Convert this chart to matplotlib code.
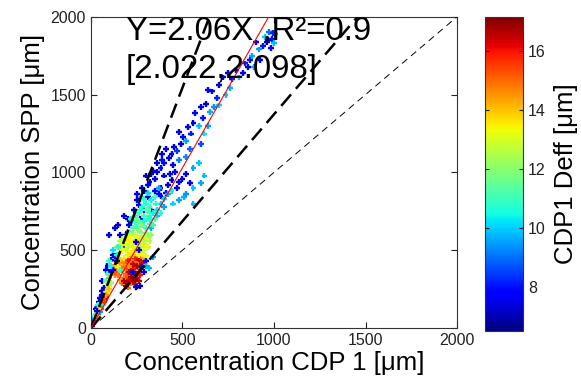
import matplotlib
matplotlib.use("Agg")
import matplotlib.pyplot as plt
import numpy as np

plt.rcParams['font.family'] = ['Liberation Sans', 'DejaVu Sans']

# ---- data ----
pts_upper = [
    (1005,1890,9.5),(990,1860,8),(975,1900,9),(960,1840,7.5),(950,1870,10),(940,1810,8),
    (1000,1830,9.8),(985,1800,7.8),(920,1790,9.5),(900,1835,7.5),(870,1720,8),(860,1680,7.3),
    (880,1750,9.6),(840,1700,8.2),(830,1640,7.6),(810,1610,9.8),(790,1660,7.4),(770,1600,8),
    (750,1640,7.5),(760,1540,9.7),(720,1610,7.6),(735,1500,9.9),(700,1560,7.3),(690,1480,8.2),
    (670,1420,9.4),(660,1520,7.5),(640,1530,7.8),(630,1440,7.2),(650,1390,9.6),(610,1350,8),
    (600,1420,7.4),(590,1300,9.8),(570,1380,7.6),(560,1320,7.3),(545,1250,8.1),(530,1290,7.5),
    (520,1200,9.5),(505,1230,7.7),(490,1180,7.3),(480,1260,7.6),(470,1140,8.4),(455,1165,7.4),
    (440,1120,7.8),(425,1090,7.5),(410,1150,7.3),(400,1060,7.6),(390,1080,8),(560,1030,9.6),
    (590,1060,9.9),(520,1100,9.3),(600,1180,8.6),(620,1250,10.2),(700,1430,10),(540,1150,8.8),
    (360,1000,7.4),(380,1030,7.8),(340,1010,7.3),(450,1050,7.6),(480,1080,9.2),(640,1300,9.5),
    (926,1723,7.6),(888,1678,9.7),(965,1852,7.4),(992,1897,8.2),
    (360,1060,7.3),(390,1120,7.4),
]
pts_middle = [
    (300,980,7.3),(320,940,7.5),(280,900,7.2),(350,960,7.8),(400,980,7.4),(430,990,7.6),
    (460,1000,7.5),(500,960,7.3),(540,930,7.7),(470,900,7.4),(420,920,7.2),(250,820,7.3),
    (235,760,7.4),(310,840,7.5),(200,700,7.3),(180,720,7.6),(220,680,7.2),(130,640,7.4),
    (150,660,7.3),(350,880,7.6),(380,850,7.4),(290,760,7.8),(270,700,7.5),(330,760,7.3),
    (160,600,7.2),(100,600,7.4),
    (200,620,7.3),(230,700,7.4),(260,790,7.2),(290,880,7.6),(170,520,7.4),(190,600,7.5),
    (210,660,7.3),(330,990,7.4),(380,900,7.7),(410,870,7.6),(440,950,7.3),(480,940,7.5),
    (520,990,7.4),(250,860,7.6),(270,830,7.3),(310,920,7.5),(370,860,7.8),
    (600,930,9.6),(620,980,9.8),(507,842,9.7),(560,900,9.9),(520,860,9.4),(480,820,9.6),
    (450,800,10),(560,800,9.8),(400,780,9.5),(360,720,9.9),(330,640,9.7),
    (380,800,9.9),(400,830,10.1),(420,860,9.7),(440,880,10.3),(370,900,9.6),
    (280,840,10.5),(300,800,10.8),(320,780,11),(270,760,10.6),(290,720,11.2),(310,700,10.9),
    (340,740,10.4),(260,690,11.3),(250,650,10.8),(230,640,11.1),(280,660,11.5),(300,640,10.7),
    (320,670,11),(240,720,10.3),(355,800,10.6),(380,740,10.5),(210,620,11.4),(270,620,11.8),
    (350,700,11.2),(220,700,10.6),
    (240,680,10.9),(260,740,11.1),(280,780,10.7),(300,760,11.4),(320,720,10.8),(250,700,11.6),
    (270,660,11.9),(290,690,10.5),(310,750,11.3),(330,700,10.6),(230,610,11.7),(260,630,12),
    (300,610,11.5),(340,660,10.9),(360,760,10.2),(330,820,10.4),(350,840,10.9),(290,820,11),
    (310,870,10.2),
]
pts_orange = [
    (130,430,14.5),(150,420,14.8),(170,430,14.2),(190,440,15),(210,430,14.6),(230,440,14.3),
    (250,430,14.9),(120,390,14.7),(140,380,15.2),(160,400,14.4),(180,390,14.9),(200,400,15.3),
    (220,410,14.1),(260,410,14.5),(110,350,15),(130,340,14.6),(240,380,14.8),(100,320,14.3),
    (270,450,15.1),
    (140,410,14.6),(160,440,14.0),(180,420,14.7),(200,420,15.2),(230,420,14.4),(250,450,14.3),
    (120,360,14.9),(140,350,15.4),(170,370,15.0),(190,380,14.6),(210,380,15.5),(270,430,14.7),
    (290,450,14.2),(220,460,14.6),(190,350,15.1),(180,320,14.8),(170,290,15.2),(150,340,14.9),
    (210,400,14.5),(200,330,15.3),(220,290,14.7),(200,260,15.0),(160,310,14.4),
]
pts_red = [
    (200,440,16),(240,450,15.9),(260,440,16.5),(250,400,16.8),(230,380,16.1),
    (210,360,16.6),(220,330,17),(240,340,16.4),(260,360,16.2),(270,390,16.7),
    (230,300,16.9),(210,310,16.3),(200,290,16.5),(250,320,16.6),
    (240,280,16.2),(280,420,16.4),(190,270,17),
    (230,410,16.4),(220,360,16.8),(250,350,16.9),(180,300,16.7),(260,300,16.5),
    (240,310,17.1),(270,340,16.0),
]
pts_lower = [
    (160,560,12.5),(180,580,13),(200,600,12.2),(220,590,13.2),(240,600,12.8),(260,580,13.4),
    (280,590,12.6),(300,580,12.9),(190,540,13.3),(210,530,12.7),(230,550,13.5),(250,540,13.1),
    (270,520,12.4),(290,540,13.6),(310,520,12.9),(170,500,13.2),(200,490,13.4),(220,480,12.9),
    (240,500,13.6),(260,470,13.3),(280,480,12.8),(150,470,13),(320,560,12.6),(140,520,12.3),
    (330,600,12.1),(180,450,13.5),(300,460,13.2),
    (170,540,13),(190,570,12.8),(210,560,13.4),(250,570,13.2),(270,560,12.9),(230,520,13.1),
    (250,500,13.7),(270,490,13.5),(290,500,13.0),(190,510,12.9),(160,480,13.4),(200,470,13.6),
    (230,470,13.8),(290,560,12.4),(310,600,12.0),(150,390,13.4),
    (90,400,7.3),(80,370,7.5),(120,470,7.4),(245,550,7.3),(280,390,7.6),(245,264,7.4),
    (110,440,7.2),(260,500,7.5),(60,300,7.4),(300,430,7.8),(70,260,7.3),
    (120,370,7.5),(140,430,7.3),(100,360,7.4),(130,460,7.6),(60,240,7.3),(290,360,7.5),
    (270,270,7.4),(230,360,7.6),
    (140,470,10.5),(100,430,10.8),(316,386,9.8),(338,457,9.5),(120,500,10.2),(90,350,11),
    (150,520,10.6),(110,400,10.4),(80,300,11.2),(160,370,10.9),(300,400,9.7),
]
pts_origin = [
    (10,30,7.3),(20,60,7.5),(30,90,7.4),(25,120,7.2),(15,80,11),(40,100,12.5),(50,140,13),
    (60,160,12),(70,200,14),(80,230,13.5),(45,170,7.5),(55,120,15.5),(35,60,16),(65,150,10.5),
    (90,250,11.5),(75,180,15),(85,200,16.5),(20,40,12),(5,10,8),(10,50,10),(30,130,7.4),
    (40,75,14),(100,270,13),(50,100,9.5),(95,230,12.8),(60,210,7.3),(110,290,12.2),
    (30,100,12.2),(45,120,13.5),(60,180,12.8),(70,170,15.5),(80,210,14.5),(15,50,9),
    (25,70,13),(35,110,7.3),(50,190,7.6),(90,280,12.5),(100,250,14),(40,150,11),
]
pts = pts_upper + pts_middle + pts_orange + pts_red + pts_lower + pts_origin
cdp_conc = [p[0] for p in pts]
spp_conc = [p[1] for p in pts]
deff = [p[2] for p in pts]

slope = 2.06
band = 1.5
annot1 = "Y=2.06X ,R\u00b2=0.9"
annot2 = "[2.022,2.098]"
cticks = [8, 10, 12, 14, 16]
xyticks = [0, 500, 1000, 1500, 2000]

# ---- figure ----
fig = plt.figure(figsize=(5.81, 3.89), dpi=100)
ax = fig.add_axes([0.1566, 0.1568, 0.630, 0.800])
cax = fig.add_axes([0.8348, 0.149, 0.0654, 0.807])

sc = ax.scatter(cdp_conc, spp_conc, c=deff, cmap='jet', vmin=6.5, vmax=17.15,
                marker='+', s=18, linewidths=1.7, zorder=2)

xx = np.array([0, 2000])
ax.plot(xx, xx, color='black', lw=0.7, dashes=(7, 5), zorder=3)
ax.plot(xx, slope * band * xx, color='black', lw=1.8, dashes=(6, 3), zorder=3)
ax.plot(xx, slope / band * xx, color='black', lw=1.8, dashes=(6, 3), zorder=3)
ax.plot(xx, slope * xx, color='red', lw=0.8, zorder=4)

ax.text(191, 1852, annot1, fontsize=23.8, color='black', va='baseline', ha='left', zorder=5)
ax.text(191, 1607, annot2, fontsize=23.8, color='black', va='baseline', ha='left', zorder=5)

ax.set_xlim(0, 2000)
ax.set_ylim(0, 2000)
ax.set_xticks(xyticks)
ax.set_yticks(xyticks)
ax.tick_params(direction='in', top=True, right=True, length=4, labelsize=11.5,
               colors='#222222', width=0.8)
for s in ax.spines.values():
    s.set_color('#333333')
    s.set_linewidth(0.8)
ax.set_xlabel("Concentration CDP 1 [\u03bcm]", fontsize=18.5, labelpad=2)
ax.set_ylabel("Concentration SPP [\u03bcm]", fontsize=18.5, labelpad=4)

cb = fig.colorbar(sc, cax=cax, ticks=cticks)
cb.outline.set_color('#333333')
cb.outline.set_linewidth(0.8)
cax.tick_params(direction='in', left=True, right=True, length=3, labelsize=11.5,
                colors='#222222', width=0.8)
cb.set_label("CDP1 Deff [\u03bcm]", fontsize=18.5, labelpad=6)

fig.savefig("out.png", dpi=100)
